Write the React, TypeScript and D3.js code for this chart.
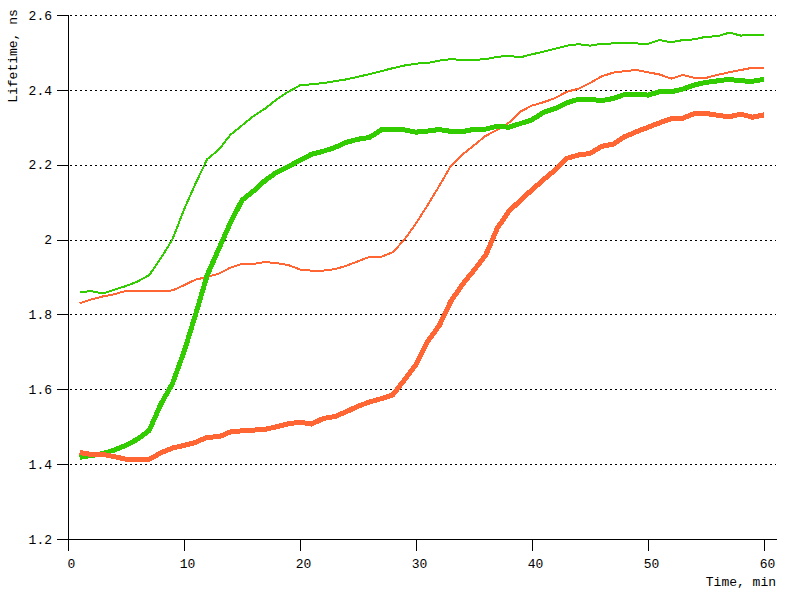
import React from "react";
import * as d3 from "d3";

const times: number[] = d3.range(1, 61);

const greenThin: number[] = [
  1.860, 1.862, 1.856, 1.866, 1.876, 1.888, 1.905, 1.950, 2.000, 2.080,
  2.150, 2.215, 2.240, 2.280, 2.305, 2.330, 2.350, 2.375, 2.395, 2.412,
  2.415, 2.418, 2.423, 2.428, 2.435, 2.442, 2.450, 2.458, 2.465, 2.470,
  2.472, 2.478, 2.482, 2.480, 2.480, 2.482, 2.488, 2.491, 2.487, 2.495,
  2.502, 2.510, 2.518, 2.522, 2.518, 2.523, 2.524, 2.524, 2.524, 2.523,
  2.533, 2.527, 2.533, 2.535, 2.542, 2.543, 2.553, 2.545, 2.547, 2.547,
];

const greenThick: number[] = [
  1.418, 1.423, 1.428, 1.438, 1.450, 1.467, 1.490, 1.560, 1.615, 1.700,
  1.800, 1.905, 1.975, 2.045, 2.105, 2.130, 2.158, 2.180, 2.195, 2.212,
  2.228, 2.236, 2.246, 2.260, 2.268, 2.273, 2.293, 2.294, 2.293, 2.287,
  2.290, 2.294, 2.289, 2.288, 2.295, 2.295, 2.303, 2.300, 2.310, 2.320,
  2.340, 2.350, 2.365, 2.375, 2.375, 2.371, 2.377, 2.388, 2.388, 2.386,
  2.395, 2.395, 2.402, 2.413, 2.420, 2.424, 2.428, 2.424, 2.423, 2.428,
];

const orangeThin: number[] = [
  1.830, 1.840, 1.848, 1.854, 1.863, 1.863, 1.863, 1.863, 1.864, 1.878,
  1.893, 1.900, 1.909, 1.925, 1.935, 1.935, 1.940, 1.937, 1.932, 1.920,
  1.917, 1.917, 1.921, 1.930, 1.942, 1.954, 1.954, 1.966, 2.000, 2.043,
  2.092, 2.143, 2.197, 2.227, 2.252, 2.277, 2.293, 2.312, 2.342, 2.358,
  2.367, 2.378, 2.395, 2.403, 2.418, 2.436, 2.446, 2.450, 2.453, 2.447,
  2.441, 2.430, 2.440, 2.432, 2.432, 2.440, 2.447, 2.453, 2.459, 2.459,
];

const orangeThick: number[] = [
  1.431, 1.426, 1.426, 1.420, 1.413, 1.413, 1.413, 1.430, 1.443, 1.450,
  1.458, 1.472, 1.473, 1.486, 1.489, 1.491, 1.493, 1.500, 1.508, 1.512,
  1.507, 1.522, 1.527, 1.540, 1.555, 1.566, 1.575, 1.585, 1.625, 1.666,
  1.728, 1.770, 1.835, 1.880, 1.918, 1.958, 2.030, 2.075, 2.105, 2.133,
  2.160, 2.186, 2.217, 2.226, 2.230, 2.249, 2.255, 2.275, 2.288, 2.300,
  2.312, 2.323, 2.324, 2.337, 2.337, 2.332, 2.328, 2.335, 2.327, 2.333,
];

const xTicks: number[] = [0, 10, 20, 30, 40, 50, 60];
const yTicks: number[] = [1.2, 1.4, 1.6, 1.8, 2.0, 2.2, 2.4, 2.6];

const GREEN = "#33cc00";
const ORANGE = "#ff6633";
const FONT = "'Liberation Mono', 'DejaVu Sans Mono', monospace";

export default function App() {
  const x = d3.scaleLinear().domain([0, 60]).range([68, 764]);
  const y = d3.scaleLinear().domain([1.2, 2.6]).range([539, 15]);
  const line = d3
    .line<number>()
    .x((_, i) => x(times[i]))
    .y((d) => y(d));

  const series = [
    { data: orangeThin, color: ORANGE, w: 2 },
    { data: greenThin, color: GREEN, w: 2 },
    { data: greenThick, color: GREEN, w: 5 },
    { data: orangeThick, color: ORANGE, w: 5 },
  ];

  const fmt = (v: number) => (Math.abs(v - 2) < 1e-9 ? "2" : v.toFixed(1));

  return (
    <svg
      width={800}
      height={600}
      style={{ position: "absolute", left: 0, top: 0, background: "#fff" }}
      fontFamily={FONT}
      fontSize={13}
    >
      <rect x={0} y={0} width={800} height={600} fill="#fff" />
      {yTicks
        .filter((t) => t > 1.2)
        .map((t) => (
          <line
            key={"g" + t}
            x1={70}
            x2={776}
            y1={Math.round(y(t)) + 0.5}
            y2={Math.round(y(t)) + 0.5}
            stroke="#000"
            strokeWidth={1}
            strokeDasharray="2 3"
            shapeRendering="crispEdges"
          />
        ))}
      {yTicks.map((t) => (
        <g key={"y" + t}>
          <line
            x1={57}
            x2={68}
            y1={Math.round(y(t)) + 0.5}
            y2={Math.round(y(t)) + 0.5}
            stroke="#000"
            shapeRendering="crispEdges"
          />
          <text x={52} y={y(t)} dy="0.36em" textAnchor="end" fill="#000">
            {fmt(t)}
          </text>
        </g>
      ))}
      {xTicks.map((t) => (
        <g key={"x" + t}>
          <line
            x1={Math.round(x(t)) + 0.5}
            x2={Math.round(x(t)) + 0.5}
            y1={539}
            y2={551}
            stroke="#000"
            shapeRendering="crispEdges"
          />
          <text x={x(t) + 3.5} y={568} textAnchor="middle" fill="#000">
            {t}
          </text>
        </g>
      ))}
      <line x1={68.5} x2={68.5} y1={15} y2={551} stroke="#000" shapeRendering="crispEdges" />
      <line x1={57} x2={777} y1={539.5} y2={539.5} stroke="#000" shapeRendering="crispEdges" />
      {series.map((s, i) => (
        <path
          key={"s" + i}
          d={line(s.data) || ""}
          fill="none"
          stroke={s.color}
          strokeWidth={s.w}
          strokeLinejoin="round"
          shapeRendering="crispEdges"
        />
      ))}
      <text x={776} y={586} textAnchor="end" fill="#000">
        Time, min
      </text>
      <text
        transform="translate(17,56) rotate(-90)"
        textAnchor="middle"
        fill="#000"
      >
        Lifetime, ns
      </text>
    </svg>
  );
}
